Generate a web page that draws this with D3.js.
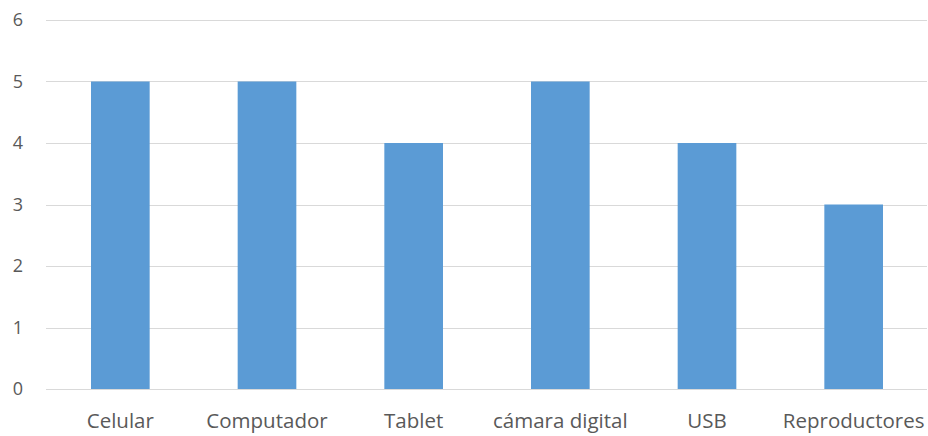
<!DOCTYPE html>
<html><head><meta charset="utf-8">
<script src="https://cdn.jsdelivr.net/npm/d3@7"></script>
<style>body{margin:0;background:#fff}svg{display:block}text{font-family:"Open Sans",sans-serif;fill:#595959}</style>
</head><body><svg id="c" width="928" height="436"></svg>
<script>
const categories = ["Celular","Computador","Tablet","cámara digital","USB","Reproductores"];
const values = [5,5,4,5,4,3];
const yTicks = [0,1,2,3,4,5,6];

const svg = d3.select("#c");
const m = {left:46, right:1, top:20, bottom:47};
const W = 928, H = 436;
const x = d3.scaleBand().domain(categories).range([m.left+1, W-m.right]).paddingInner(0.6).paddingOuter(0.3);
const y = d3.scaleLinear().domain([0,6]).range([H-m.bottom, m.top]);

const g = svg.append("g");
g.selectAll("line.grid").data(yTicks).join("line")
  .attr("x1", m.left).attr("x2", W-m.right)
  .attr("y1", d=>Math.round(y(d))+0.5).attr("y2", d=>Math.round(y(d))+0.5)
  .attr("stroke","#d9d9d9").attr("stroke-width",1);

g.selectAll("text.yl").data(yTicks).join("text")
  .attr("x", 18).attr("y", d=>y(d)).attr("dy","0.35em")
  .attr("text-anchor","middle").style("font-size","18px").text(d=>d);

g.selectAll("rect").data(values).join("rect")
  .attr("x",(d,i)=>x(categories[i])).attr("width",x.bandwidth())
  .attr("y",d=>y(d)).attr("height",d=>y(0)-y(d))
  .attr("fill","#5b9bd5");

g.selectAll("text.xl").data(categories).join("text")
  .attr("x", d=>x(d)+x.bandwidth()/2).attr("y", 428)
  .attr("text-anchor","middle").style("font-size","20.5px").text(d=>d);
</script></body></html>
